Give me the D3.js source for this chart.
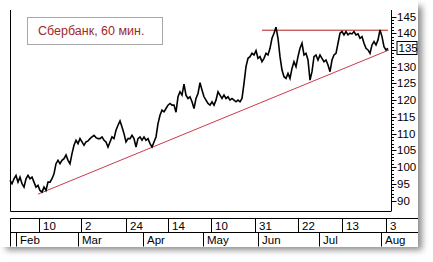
<!DOCTYPE html>
<html>
<head>
<meta charset="utf-8">
<script src="https://cdn.jsdelivr.net/npm/d3@7"></script>
<style>
  body { margin: 0; background: #fff; }
  text { font-family: "Liberation Sans", Arial, sans-serif; }
</style>
</head>
<body>
<div id="container"></div>
<script>
let w = 433;
let h = 262;

// hourly closes, sampled about every 2/3 of a trading day
let closes = [
  96, 95, 96.5, 97.5, 95.5, 97, 95, 94, 96.5, 97.5,
  96.5, 97, 95.5, 94, 94.5, 93, 92.5, 94, 93, 95.5,
  95.5, 96.5, 98, 101, 102, 101, 102, 102.5, 103.6, 102,
  101, 104, 106.5, 108, 107, 108.5, 107.5, 106.5, 107.5, 107.8,
  108.5, 109, 109.5, 108.8, 108.5, 108.5, 109, 108, 107.5, 106,
  107.5, 109, 108.5, 111, 112.5, 113.8, 112, 110, 107.5, 108.5,
  108.5, 109.5, 108.5, 106, 108.5, 109, 108, 109, 108, 108.5,
  107, 106, 107.5, 109, 113, 115.5, 117, 116.5, 117.5, 118.5,
  119, 118.5, 118.5, 116.4, 121, 122.5, 121.5, 124.8, 121.5, 120.5,
  121, 119.5, 117.5, 120.5, 122, 125.2, 123, 121, 120, 119,
  118.5, 119.5, 118.5, 120, 122.5, 121.5, 120.5, 121.5, 120.5, 121,
  120, 120.5, 120, 119.5, 120, 119.5, 120.5, 125, 130, 132.5,
  133, 134, 133.5, 134.8, 132.5, 133, 131.5, 132.5, 134, 133.5,
  135.5, 138.5, 140, 141.8, 138.5, 133, 129, 127, 126.5, 128,
  126.5, 129.5, 131.5, 130, 133, 135.5, 137, 133.5, 134, 132,
  126, 128.5, 133, 133.5, 132, 133.5, 132.5, 131.5, 132, 130.5,
  128.5, 132, 133.5, 134, 137, 140, 140.5, 139.5, 140.5, 139.5,
  140, 139.8, 140.5, 139.5, 139.8, 138.5, 139, 137, 135.5, 135,
  134, 136.5, 137.5, 136.5, 138, 141, 139, 136, 135, 135.5
];

// trend lines: [bar, price]
let supportLine = [[14, 91.9], [189.5, 135.0]];
let resistanceLine = [[126, 140.9], [189, 140.9]];

// time scale labels (bar positions)
let dayLabels = ["10", "2", "24", "14", "10", "31", "22", "13", "3"];
let dayBars = [14.5, 35.5, 58, 79, 100.5, 122.5, 144, 166, 188];
let monthLabels = ["Feb", "Mar", "Apr", "May", "Jun", "Jul", "Aug"];
let monthBars = [3, 34, 66.5, 96.5, 124, 154.5, 185.5];

let priceTicks = d3.range(90, 146, 5);

let title = "Сбербанк, 60 мин.";

let plotLeft = 10, plotRight = 391, plotTop = 10, plotBottom = 211;

let svg = d3.select("#container")
  .append("svg")
    .attr("width", w)
    .attr("height", h);

// card shadow
let defs = svg.append("defs");
defs.append("filter").attr("id", "blur")
  .attr("x", "-10%").attr("y", "-10%").attr("width", "120%").attr("height", "130%")
  .append("feGaussianBlur").attr("stdDeviation", 3);

svg.append("rect")
  .attr("x", 6).attr("y", 6).attr("width", 416).attr("height", 244)
  .attr("fill", "#8a8a8a")
  .attr("filter", "url(#blur)");
svg.append("rect")
  .attr("x", 0).attr("y", 0).attr("width", 418).attr("height", 247)
  .attr("fill", "#fff");

let xScale = d3.scaleLinear().domain([0, 190.5]).range([plotLeft, plotRight]);
let yScale = d3.scaleLinear().domain([90, 145]).range([200.5, 16.5]);

// frame: left and bottom
svg.append("path")
  .attr("d", "M" + (plotLeft + 0.5) + "," + plotTop + "V" + (plotBottom + 0.5) + "H" + plotRight)
  .attr("fill", "none")
  .attr("stroke", "#000");

// price axis on the right
let yAxisGroup = svg.append("g")
  .attr("transform", "translate(" + (plotRight + 0.5) + ",0)");

yAxisGroup.append("line")
  .attr("y1", plotTop).attr("y2", plotBottom + 0.5)
  .attr("stroke", "#000");

yAxisGroup.selectAll(".minor").data(d3.range(90, 146, 1)).enter()
  .append("line")
    .attr("class", "minor")
    .attr("x1", 0).attr("x2", d => d % 5 == 0 ? 5 : 2.5)
    .attr("y1", d => Math.round(yScale(d)) + 0.5)
    .attr("y2", d => Math.round(yScale(d)) + 0.5)
    .attr("stroke", "#000");

let lastClose = closes[closes.length - 1];

yAxisGroup.selectAll(".lab").data(priceTicks.filter(d => d != 135)).enter()
  .append("text")
    .attr("class", "lab")
    .attr("x", 5.5)
    .attr("y", d => yScale(d) + 4)
    .attr("font-size", 11.5)
    .attr("fill", "#000")
    .text(d => d);

// current price marker
yAxisGroup.append("rect")
  .attr("x", 5.5).attr("y", Math.round(yScale(lastClose)) - 6.5)
  .attr("width", 20).attr("height", 13)
  .attr("fill", "#fff").attr("stroke", "#000");
yAxisGroup.append("text")
  .attr("x", 7)
  .attr("y", yScale(lastClose) + 4)
  .attr("font-size", 11.5)
  .text(Math.floor(lastClose));

// title box
svg.append("rect")
  .attr("x", 27.5).attr("y", 17.5).attr("width", 135).attr("height", 27)
  .attr("fill", "#fff").attr("stroke", "#a8a8a8");
svg.append("text")
  .attr("x", 38).attr("y", 35)
  .attr("font-size", 12.5)
  .attr("fill", "#a0282a")
  .text(title);

// trend lines
let lineGen = d3.line().x(d => xScale(d[0])).y(d => yScale(d[1]));

svg.append("path")
  .attr("d", lineGen(supportLine))
  .attr("fill", "none")
  .attr("stroke", "#cc3a4a")
  .attr("stroke-width", 1);

svg.append("path")
  .attr("d", lineGen(resistanceLine))
  .attr("fill", "none")
  .attr("stroke", "#b52020")
  .attr("stroke-width", 1);

// price line
svg.append("path")
  .attr("d", d3.line().x((d, i) => xScale(i)).y(d => yScale(d))(closes))
  .attr("fill", "none")
  .attr("stroke", "#000")
  .attr("stroke-width", 1.6)
  .attr("stroke-linejoin", "miter");

// time scale rows
let row1 = 218.5, row2 = 232.5, row3 = 246.5;
let timeGroup = svg.append("g");

timeGroup.append("path")
  .attr("d", "M" + (plotLeft + 0.5) + "," + row1 + "H418" + "M" + (plotLeft + 0.5) + "," + row2 + "H418"
    + "M" + (plotLeft + 0.5) + "," + row1 + "V" + row3)
  .attr("fill", "none")
  .attr("stroke", "#000");

timeGroup.selectAll(".dayTick").data(dayBars).enter()
  .append("line")
    .attr("x1", d => Math.round(xScale(d)) + 0.5)
    .attr("x2", d => Math.round(xScale(d)) + 0.5)
    .attr("y1", row1).attr("y2", row2)
    .attr("stroke", "#000");

timeGroup.selectAll(".dayLab").data(dayLabels).enter()
  .append("text")
    .attr("x", (d, i) => Math.round(xScale(dayBars[i])) + 4)
    .attr("y", row1 + 11.5)
    .attr("font-size", 11.5)
    .text(d => d);

timeGroup.selectAll(".monTick").data(monthBars).enter()
  .append("line")
    .attr("x1", d => Math.round(xScale(d)) + 0.5)
    .attr("x2", d => Math.round(xScale(d)) + 0.5)
    .attr("y1", row2).attr("y2", row3)
    .attr("stroke", "#000");

timeGroup.selectAll(".monLab").data(monthLabels).enter()
  .append("text")
    .attr("x", (d, i) => Math.round(xScale(monthBars[i])) + 4)
    .attr("y", row2 + 11.5)
    .attr("font-size", 11.5)
    .text(d => d);
</script>
</body>
</html>
